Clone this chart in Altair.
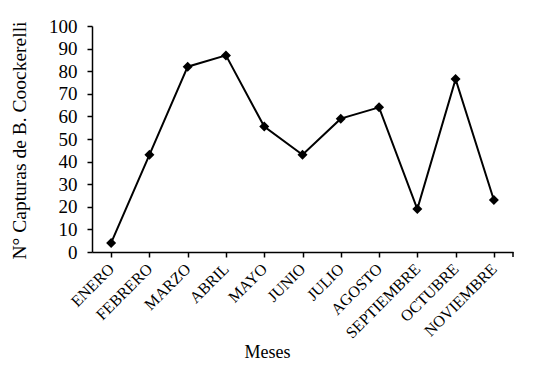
import altair as alt
import pandas as pd

meses = ["ENERO", "FEBRERO", "MARZO", "ABRIL", "MAYO", "JUNIO", "JULIO",
         "AGOSTO", "SEPTIEMBRE", "OCTUBRE", "NOVIEMBRE"]
capturas = [4, 43, 82, 87, 55.5, 43, 59, 64, 19, 76.5, 23]
y_ticks = list(range(0, 101, 10))

df = pd.DataFrame({"mes": meses, "capturas": capturas})

FONT = "Liberation Serif"
W, H = 421, 226

x_enc = alt.X("mes:N", sort=meses,
              scale=alt.Scale(paddingInner=0, paddingOuter=0),
              axis=alt.Axis(title="Meses", labelAngle=-45, labelAlign="right",
                            labelBaseline="middle", labelFontSize=16,
                            labelPadding=9, bandPosition=0, tickSize=5,
                            tickWidth=1.5, domainWidth=1.5, domainColor="black",
                            tickColor="black", labelColor="black",
                            titleFontSize=18, titleFontWeight="normal",
                            titleColor="black", titleX=175, titleY=105,
                            titleBaseline="alphabetic", titleFont=FONT,
                            labelFont=FONT, grid=False))
y_enc = alt.Y("capturas:Q",
              scale=alt.Scale(domain=[0, 100], nice=False),
              axis=alt.Axis(title="N° Capturas de B. Coockerelli", values=y_ticks,
                            labelFontSize=19, labelPadding=10, tickSize=5,
                            tickWidth=1.5, domainWidth=1.5, domainColor="black",
                            tickColor="black", labelColor="black",
                            titleFontSize=19.5, titleFontWeight="normal",
                            titleColor="black", titleX=-67, titleY=114,
                            titleAngle=-90, titleAlign="center",
                            titleBaseline="alphabetic", titleFont=FONT,
                            labelFont=FONT, grid=False))

base = alt.Chart(df)
line = base.mark_line(color="black", strokeWidth=2).encode(x=x_enc, y=y_enc)
pts = base.mark_point(shape="diamond", filled=True, color="black", size=100,
                      opacity=1).encode(x=x_enc, y=y_enc)
end_tick = alt.Chart(pd.DataFrame({"a": [0]})).mark_rule(
    color="black", strokeWidth=1.5).encode(
    x=alt.value(W), y=alt.value(H), y2=alt.value(H + 5))

chart = alt.layer(line, pts, end_tick).properties(
    width=W, height=H,
    autosize=alt.AutoSizeParams(type="none"),
    padding={"left": 84, "top": 18, "right": 21, "bottom": 119},
    background="white",
).configure_view(stroke=None)

chart.save("out.html", embed_options={"renderer": "svg", "actions": False})
